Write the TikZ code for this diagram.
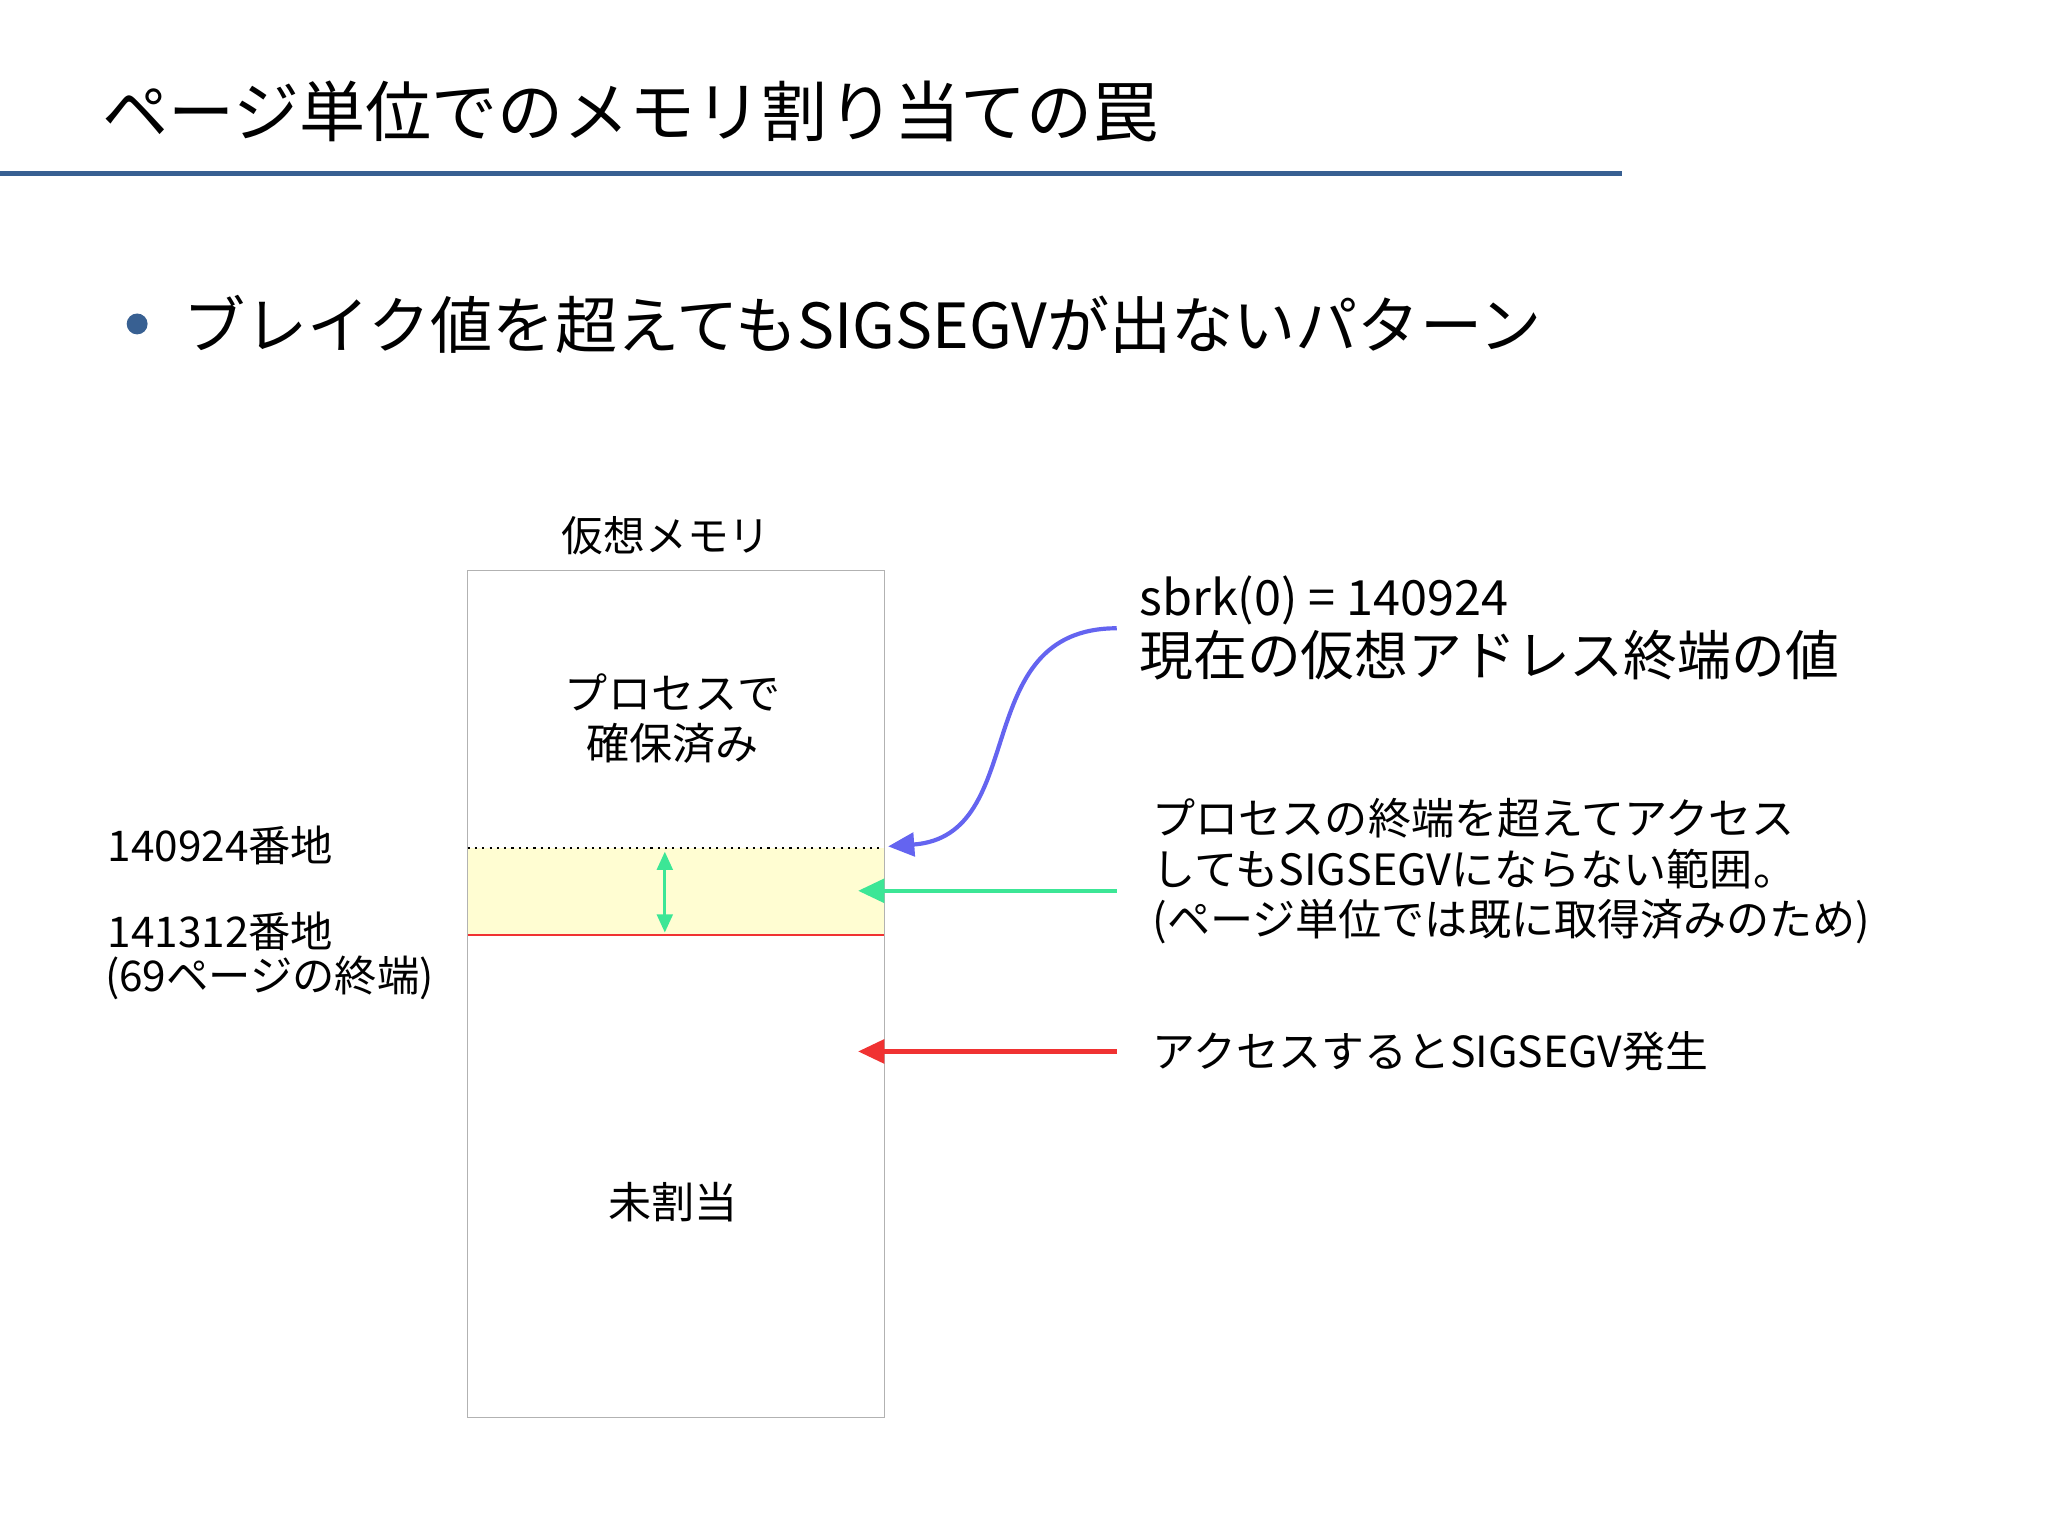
\documentclass[tikz,border=0pt]{standalone}
\usepackage{fontspec}
\setmainfont{Noto Sans CJK JP}
\usetikzlibrary{arrows.meta}
\definecolor{tblue}{RGB}{56,96,146}
\definecolor{cblue}{RGB}{100,100,240}
\definecolor{cgreen}{RGB}{60,230,150}
\definecolor{cred}{RGB}{240,50,50}
\definecolor{cyel}{RGB}{255,253,210}
\tikzset{lbl/.style={inner sep=0pt,font=\fontsize{15.5}{19}\selectfont},
 lft/.style={lbl,anchor=west,align=left},
 arr/.style={line width=1.6pt,-{Triangle[length=10pt,width=9pt]}}}
\begin{document}
\begin{tikzpicture}[x=0.5pt,y=-0.5pt]
\useasboundingbox (0,0) rectangle (1568,1175);
\node[lft,font=\fontsize{25.3}{30}\selectfont] (title) at (78,85) {ページ単位でのメモリ割り当ての罠};
\draw[tblue,line width=2pt] (0,133) -- (1242,133);
\fill[tblue] (105,248) circle (8);
\node[lft,font=\fontsize{23.8}{28}\selectfont] (sub) at (140,248) {ブレイク値を超えてもSIGSEGVが出ないパターン};
\node[lbl,font=\fontsize{16}{19}\selectfont] (vm) at (510,410) {仮想メモリ};
\fill[cyel] (358,649) rectangle (677,716);
\draw[gray!60] (358,437) rectangle (677,1085);
\draw[dotted,thick] (358,649) -- (677,649);
\draw[cred,thick] (358,716) -- (677,716);
\coordinate (g1) at (509,652); \coordinate (g2) at (509,714);
\draw[cgreen,line width=1.2pt,{Triangle[length=7pt,width=6pt]}-{Triangle[length=7pt,width=6pt]}] (g1) -- (g2);
\node[lbl,align=center,font=\fontsize{16.5}{19}\selectfont] (used) at (515,550) {プロセスで\\確保済み};
\node[lbl,font=\fontsize{16.5}{19}\selectfont] (free) at (515,920) {未割当};
\node[lft,font=\fontsize{16.2}{19}\selectfont] (a1) at (82,647) {140924番地};
\node[lft,font=\fontsize{16.2}{19}\selectfont] (a2) at (82,713) {141312番地};
\node[lft,font=\fontsize{16.2}{19}\selectfont] (a3) at (80,749) {(69ページの終端)};
\node[lft,font=\fontsize{18.6}{22}\selectfont] (s1) at (872,460) {sbrk(0) = 140924};
\node[lft,font=\fontsize{20.6}{24}\selectfont] (s2) at (872,502) {現在の仮想アドレス終端の値};
\node[lft,align=left,font=\fontsize{16.5}{19.3}\selectfont] (t2) at (882,667) {プロセスの終端を超えてアクセス\\してもSIGSEGVにならない範囲。\\(ページ単位では既に取得済みのため)};
\node[lft,font=\fontsize{16.4}{19}\selectfont] (t3) at (882,805) {アクセスするとSIGSEGV発生};
\coordinate (b0) at (855,481); \coordinate (b1) at (680,648);
\draw[cblue,arr] (b0) .. controls (740,481) and (790,640) .. (b1);
\coordinate (gs) at (855,682); \coordinate (ge) at (657,682);
\draw[cgreen,arr] (gs) -- (ge);
\coordinate (rs) at (855,805); \coordinate (re) at (657,805);
\draw[cred,arr] (rs) -- (re);
\end{tikzpicture}
\end{document}
